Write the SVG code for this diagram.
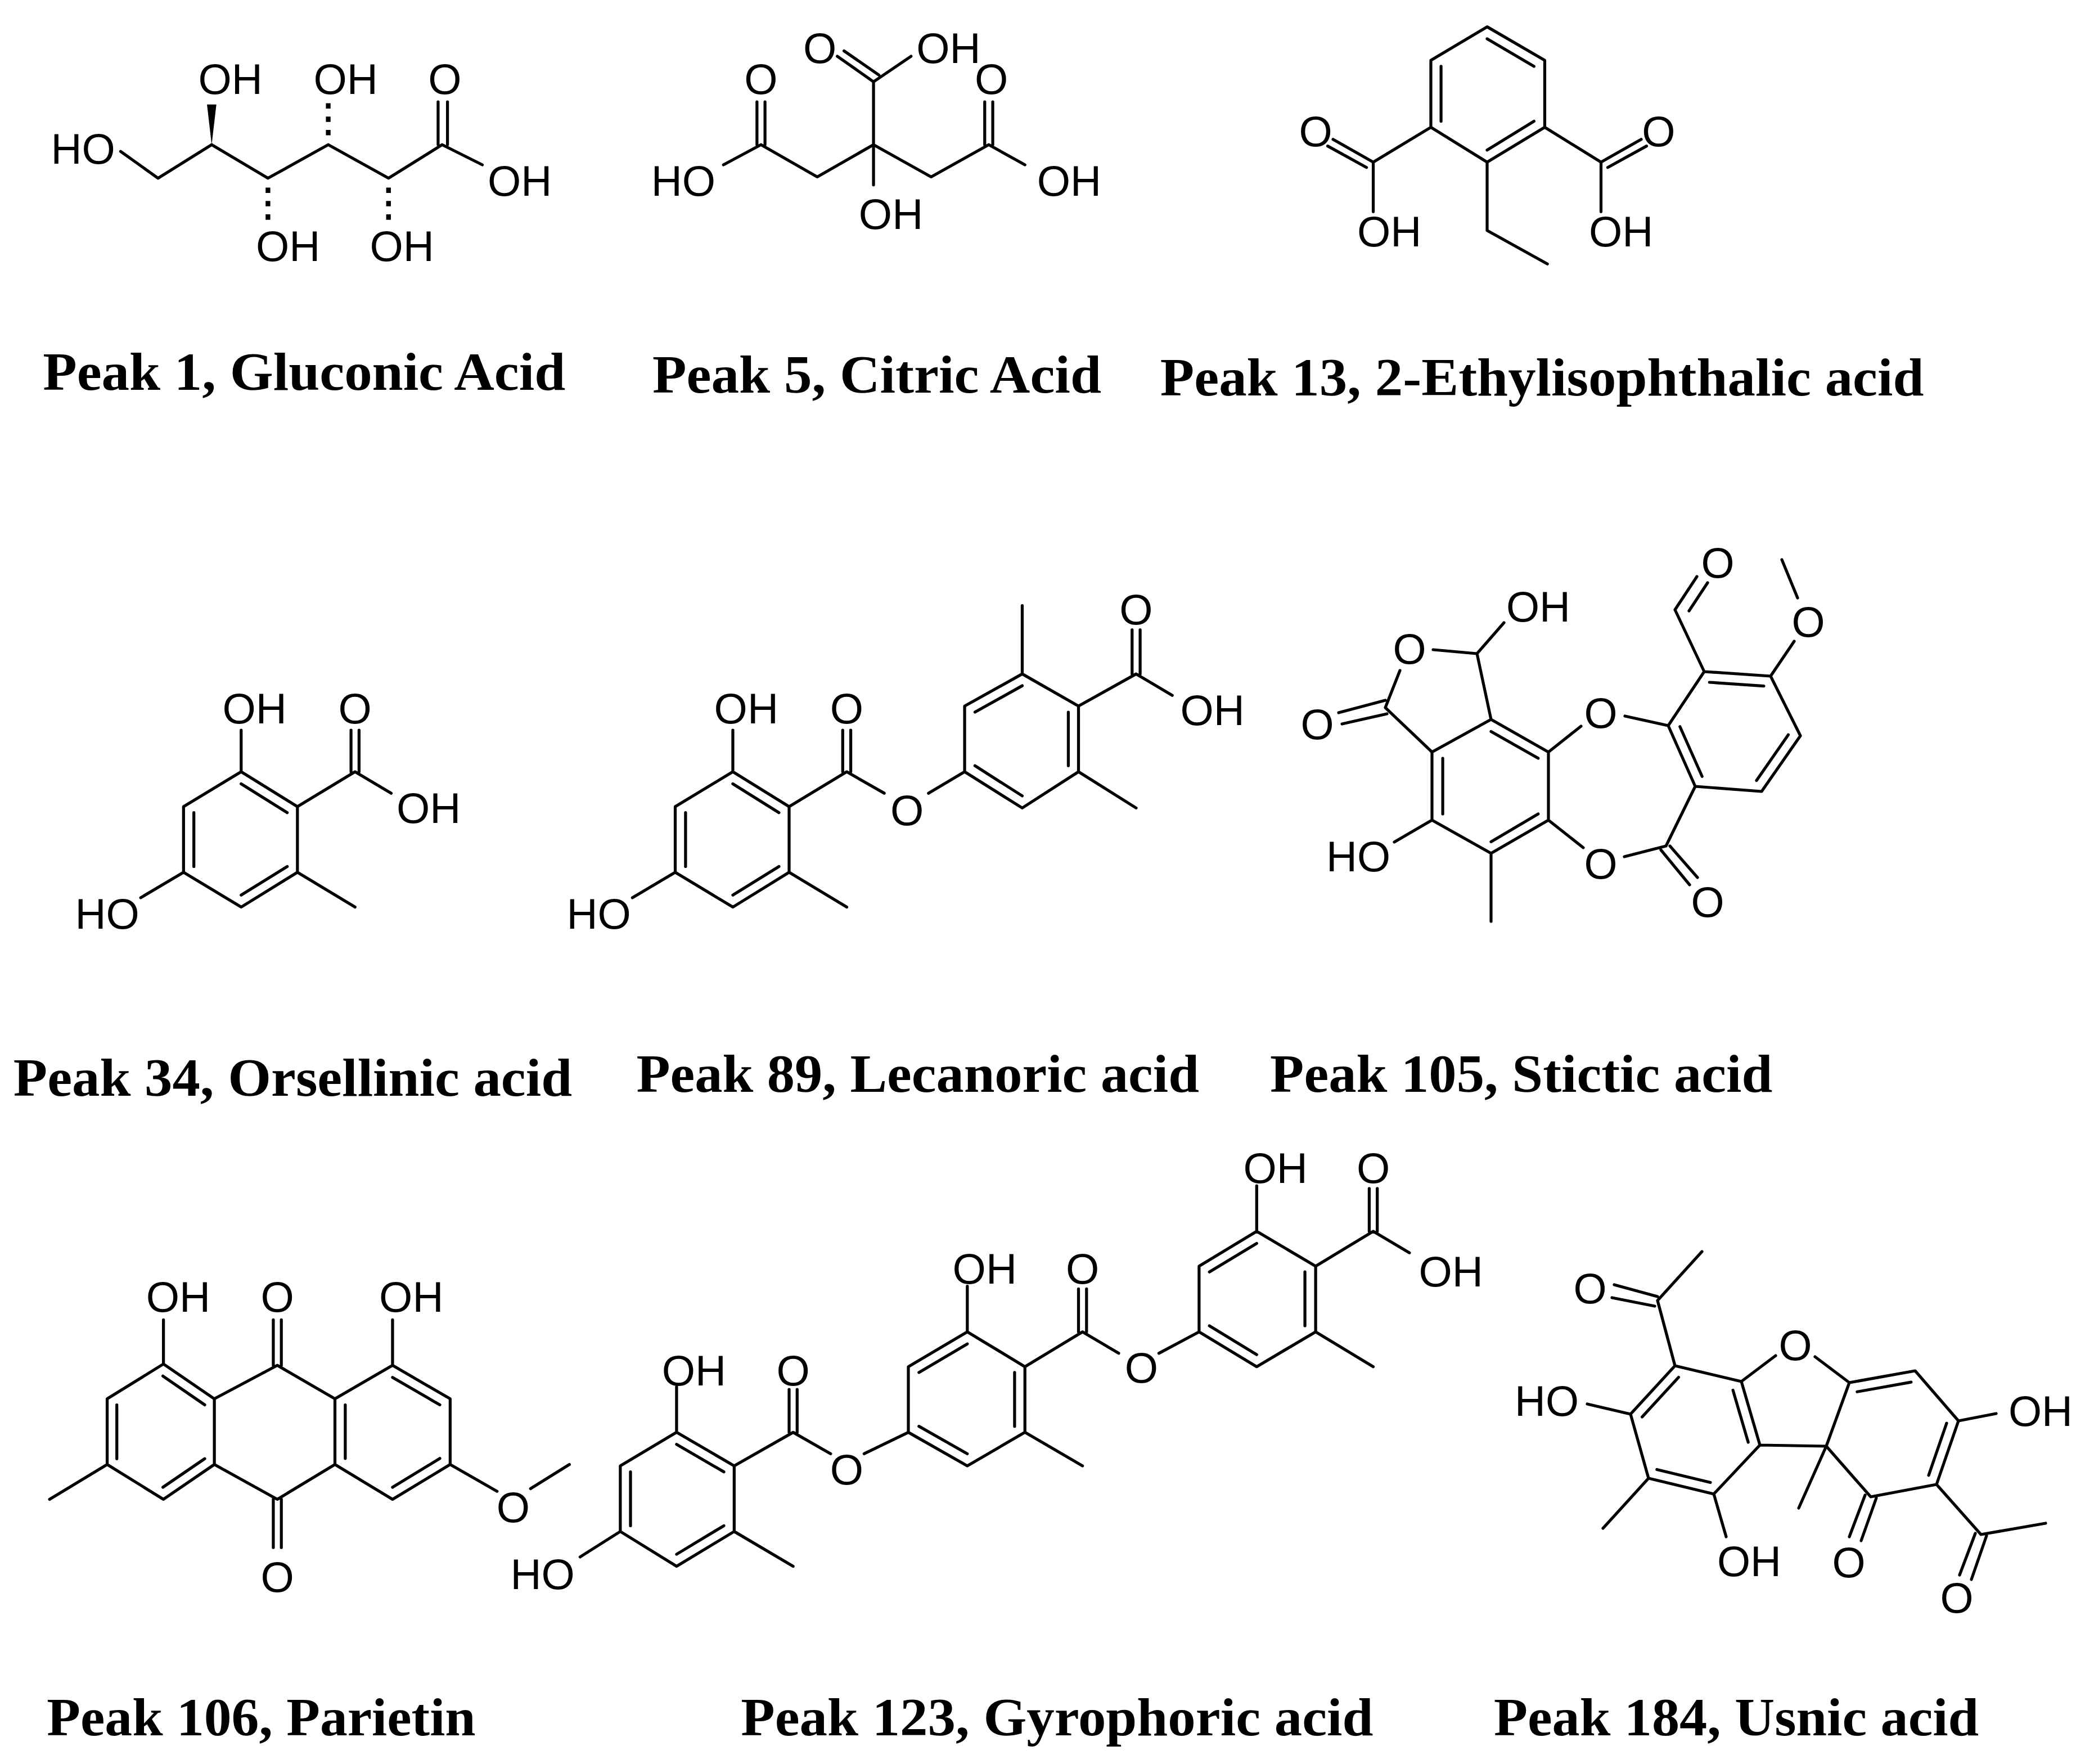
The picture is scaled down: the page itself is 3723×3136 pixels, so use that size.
<svg xmlns="http://www.w3.org/2000/svg" width="3723" height="3136" viewBox="0 0 3723 3136">
<style>
.b{stroke:#000;fill:none;stroke-linecap:round;stroke-linejoin:round}
.a{font-family:"Liberation Sans",Arial,sans-serif;fill:#000;text-anchor:middle}
.t{font-family:"Liberation Serif","Times New Roman",serif;font-weight:bold;fill:#000}
.h{stroke:#000;stroke-dasharray:4 6;stroke-width:3.5}
</style>
<rect width="3723" height="3136" fill="#fff"/>
<g transform="scale(2.382)">
<g id="gluconic">
<path class="b" stroke-width="2.2" d="M90,113 L118,133 L158,108 L200,133 L245,108 L290,133 L330,108 L360,123 M327,108 L327,76 M334,108 L334,76"/>
<polygon points="158,108 154.5,78 161.5,78" fill="#000"/>
<line class="h" x1="200" y1="140" x2="200" y2="166"/>
<line class="h" x1="245" y1="101" x2="245" y2="75"/>
<line class="h" x1="290" y1="140" x2="290" y2="166"/>
<g class="a" font-size="32"><text x="62" y="122">HO</text><text x="172" y="70">OH</text><text x="258" y="70">OH</text><text x="332" y="70">O</text><text x="388" y="146">OH</text><text x="215" y="195">OH</text><text x="300" y="195">OH</text></g>
</g>
<g id="citric">
<path class="b" stroke-width="2.2" d="M540,123 L568,108 L610,132 L652,108 L695,132 L738,108 L765,123 M565,108 L565,76 M571,108 L571,76 M735,108 L735,76 M741,108 L741,76 M652,138 L652,61 L680,42 M652,61 L625,42 M656,56 L630,38"/>
<g class="a" font-size="32"><text x="510" y="146">HO</text><text x="568" y="70">O</text><text x="740" y="70">O</text><text x="798" y="146">OH</text><text x="665" y="171">OH</text><text x="612" y="47">O</text><text x="708" y="47">OH</text></g>
</g>
<g id="ethylisophthalic">
<path class="b" stroke-width="2.2" d="M1110,20 L1153,45 L1153,95 L1110,121 L1068,95 L1068,45 Z M1110,29 L1145,49.5 M1075.6,49.5 L1075.6,90.5 M1145,90.5 L1110,112 M1068,95 L1025,121 L1025,158 M1025,121 L995,104 M1020,125 L991,109 M1153,95 L1195,121 L1195,158 M1195,121 L1225,104 M1200,125 L1229,109 M1110,121 L1110,172 L1155,197"/>
<g class="a" font-size="32"><text x="982" y="109">O</text><text x="1238" y="109">O</text><text x="1037" y="184">OH</text><text x="1210" y="184">OH</text></g>
</g>
<g id="orsellinic">
<path class="b" stroke-width="2.2" d="M180,576 L222,602 L222,651 L180,677 L137,651 L137,602 Z M180,585 L214.4,606.5 M214.4,646.7 L180,668 M144.7,646.7 L144.7,606.5 M180,576 L180,545 M222,602 L265,576 L292,592 M262,576 L262,545 M268,576 L268,545 M222,651 L265,677 M137,651 L105,670"/>
<g class="a" font-size="32"><text x="190" y="540">OH</text><text x="265" y="540">O</text><text x="320" y="614">OH</text><text x="80" y="693">HO</text></g>
</g>
<g id="lecanoric">
<path class="b" stroke-width="2.2" d="M547,576 L589,602 L589,651 L547,677 L504,651 L504,602 Z M547,585 L581.4,606.5 M581.4,646.7 L547,668 M511.7,646.7 L511.7,606.5 M547,576 L547,545 M589,602 L632,576 L660,592 M629,576 L629,545 M635,576 L635,545 M589,651 L632,677 M504,651 L472,670 M693,592 L720,576 M763,503 L805,527 L805,576 L763,603 L720,576 L720,527 Z M727.7,531.5 L763,511.8 M797.4,531.5 L797.4,571.5 M763,594 L727.7,571.5 M763,503 L763,452 M805,576 L848,603 M805,527 L848,503 L875,519 M845,503 L845,470 M851,503 L851,470"/>
<g class="a" font-size="32"><text x="557" y="540">OH</text><text x="632" y="540">O</text><text x="677" y="616">O</text><text x="447" y="693">HO</text><text x="848" y="466">O</text><text x="905" y="541">OH</text></g>
</g>
<g id="parietin">
<path class="b" stroke-width="2.2" d="M122,1018 L160,1044 L160,1093 L122,1119 L80,1093 L80,1044 Z M121.6,1027 L152.8,1048.5 M152.8,1088.7 L121.6,1110 M87.2,1088.7 L87.2,1048.5 M160,1044 L207,1019 L250,1044 M160,1093 L207,1119 L250,1093 M293,1019 L336,1044 L336,1093 L293,1119 L250,1093 L250,1044 Z M293,1028 L328.3,1048.5 M328.3,1088.5 L293,1110 M257.7,1088.5 L257.7,1048.5 M204,1019 L204,985 M210,1019 L210,985 M204,1119 L204,1155 M210,1119 L210,1155 M122,1018 L122,985 M293,1019 L293,985 M80,1093 L37,1119 M336,1093 L371,1113 M396,1111 L425,1093"/>
<g class="a" font-size="32"><text x="133" y="979">OH</text><text x="207" y="979">O</text><text x="307" y="979">OH</text><text x="207" y="1188">O</text><text x="383" y="1136">O</text></g>
</g>
<g id="gyrophoric">
<path class="b" stroke-width="2.2" d="M505,1069 L548,1094 L548,1143 L505,1169 L463,1143 L463,1094 Z M505,1078 L540.3,1098.5 M540.3,1138.7 L505,1160 M470.6,1138.7 L470.6,1098.5 M505,1069 L505,1035 M548,1094 L592,1069 L620,1085 M589,1069 L589,1037 M595,1069 L595,1037 M548,1143 L592,1169 M463,1143 L433,1162 M645,1085 L678,1069 M678,1069 L678,1020 L722,994 L765,1020 L765,1069 L722,1094 Z M685.9,1024.3 L722,1003 M757.3,1024.3 L757.3,1064.5 M722,1085 L685.9,1064.5 M722,994 L722,960 M765,1020 L808,994 L835,1010 M805,994 L805,962 M811,994 L811,962 M765,1069 L808,1094 M865,1010 L895,994 M895,994 L895,945 L938,919 L982,945 L982,994 L938,1020 Z M902.7,949.3 L938,928 M974,949.3 L974,989.5 M938,1011 L902.7,989.5 M938,919 L938,885 M982,945 L1025,919 L1052,935 M1022,919 L1022,887 M1028,919 L1028,887 M982,994 L1025,1020"/>
<g class="a" font-size="32"><text x="518" y="1034">OH</text><text x="592" y="1034">O</text><text x="632" y="1108">O</text><text x="405" y="1186">HO</text><text x="735" y="958">OH</text><text x="808" y="958">O</text><text x="852" y="1032">O</text><text x="952" y="883">OH</text><text x="1025" y="883">O</text><text x="1083" y="960">OH</text></g>
</g>
<g id="titles" class="t" font-size="40">
<text x="32" y="291" textLength="390" lengthAdjust="spacingAndGlyphs">Peak 1, Gluconic Acid</text>
<text x="487" y="293" textLength="335" lengthAdjust="spacingAndGlyphs">Peak 5, Citric Acid</text>
<text x="866" y="295" textLength="570" lengthAdjust="spacingAndGlyphs">Peak 13, 2-Ethylisophthalic acid</text>
<text x="10" y="818" textLength="417" lengthAdjust="spacingAndGlyphs">Peak 34, Orsellinic acid</text>
<text x="475" y="815" textLength="420" lengthAdjust="spacingAndGlyphs">Peak 89, Lecanoric acid</text>
<text x="948" y="815" textLength="375" lengthAdjust="spacingAndGlyphs">Peak 105, Stictic acid</text>
<text x="35" y="1295" textLength="320" lengthAdjust="spacingAndGlyphs">Peak 106, Parietin</text>
<text x="553" y="1295" textLength="472" lengthAdjust="spacingAndGlyphs">Peak 123, Gyrophoric acid</text>
<text x="1115" y="1295" textLength="362" lengthAdjust="spacingAndGlyphs">Peak 184, Usnic acid</text>
</g>
</g>
<g id="stictic">
<path class="b" stroke-width="5.2" d="M2548,1155 L2626,1162 L2674,1107 M2489,1192 L2463,1258 L2546,1337 M2463,1245 L2380,1267 M2466,1269 L2386,1287 M2626,1162 L2651,1279 M2651,1279 L2753,1337 L2753,1458 L2651,1517 L2546,1458 L2546,1337 Z M2651,1300.4 L2734.8,1348.1 M2734.8,1447.1 L2651,1496.5 M2565.1,1447.1 L2565.1,1348.1 M2753,1337 L2811,1291 M2889,1273 L2966,1290 M2966,1290 L3030,1194 L3148,1202 L3201,1308 L3132,1407 L3014,1398 Z M3039.3,1213 L3136,1219.6 M3179.5,1306.2 L3123,1387.6 M3026.2,1380.3 L2986.8,1291.8 M3030,1194 L2978,1084 L3017,1025 M3003,1086 L3036,1036 M3148,1202 L3190,1140 M3196,1063 L3168,995 M3014,1398 L2962,1504 L2888,1523 M2815,1507 L2753,1458 M2953,1511 L3004,1573 M2969,1504 L3018,1560 M2651,1517 L2651,1638 M2546,1458 L2479,1497"/>
<g class="a" font-size="76"><text x="2506" y="1180">O</text><text x="2735" y="1105">OH</text><text x="2342" y="1314">O</text><text x="2846" y="1294">O</text><text x="3054" y="1027">O</text><text x="3215" y="1132">O</text><text x="2846" y="1562">O</text><text x="3036" y="1630">O</text><text x="2415" y="1549">HO</text></g>
</g>
<g id="usnic">
<path class="b" stroke-width="5.2" d="M2978,2428 L2899,2514 L2931,2628 L3047,2656 L3129,2569 L3096,2456 Z M2984.4,2448.5 L2919.6,2519 M2945.8,2612.5 L3041,2635.5 M3108.2,2564.1 L3081.1,2471.4 M2978,2428 L2947,2312 L3026,2225 M2947,2305 L2870,2284 M2942,2322 L2866,2307 M2899,2514 L2822,2496 M2931,2628 L2850,2717 M3047,2656 L3069,2732 M3096,2456 L3157,2410 M3227,2412 L3288,2458 M3288,2458 L3405,2437 L3482,2526 L3443,2639 L3326,2661 L3247,2571 Z M3301.9,2474.3 L3397.9,2457.1 M3461,2530.1 L3429,2622.8 M3129,2569 L3247,2571 L3198,2681 M3482,2526 L3549,2513 M3316,2658 L3288,2732 M3336,2663 L3309,2739 M3443,2639 L3522,2728 L3637,2708 M3512,2726 L3484,2800 M3532,2730 L3505,2808"/>
<g class="a" font-size="76"><text x="2827" y="2317">O</text><text x="2750" y="2517">HO</text><text x="3110" y="2802">OH</text><text x="3192" y="2418">O</text><text x="3628" y="2535">OH</text><text x="3287" y="2804">O</text><text x="3479" y="2867">O</text></g>
</g>
</svg>
